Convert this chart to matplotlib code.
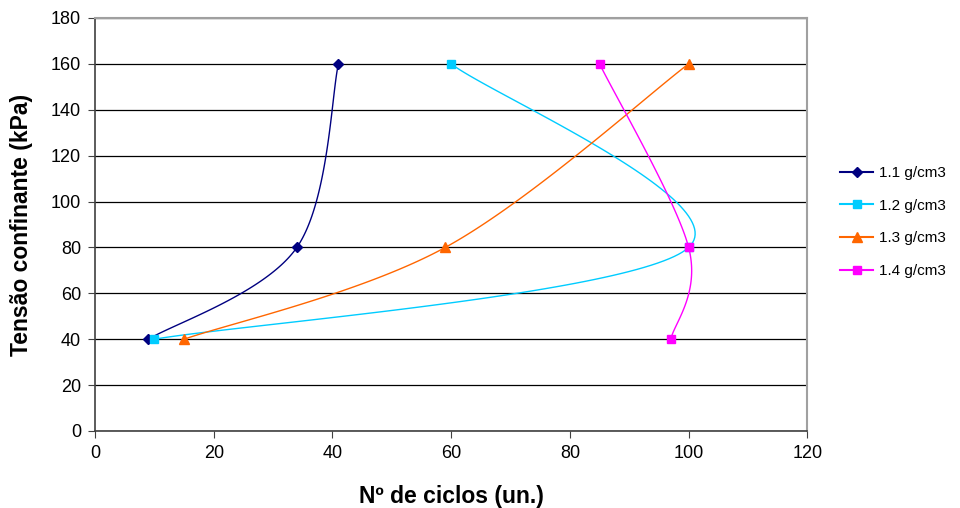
import numpy as np
import matplotlib
matplotlib.use('Agg')
import matplotlib.pyplot as plt

plt.rcParams['font.family'] = ['Liberation Sans', 'DejaVu Sans']

# data
tensao = [40, 80, 160]
ciclos_11 = [9, 34, 41]
ciclos_12 = [10, 100, 60]
ciclos_13 = [15, 59, 100]
ciclos_14 = [97, 100, 85]
labels = ['1.1 g/cm3', '1.2 g/cm3', '1.3 g/cm3', '1.4 g/cm3']
colors = ['#000080', '#00CCFF', '#FF6600', '#FF00FF']
markers = ['D', 's', '^', 's']
msizes = [5, 6, 7, 6]


def smooth(xs, ys, n=60):
    # Excel-like smoothed line (cubic Bezier, Catmull-Rom control points)
    p = np.column_stack([xs, ys]).astype(float)
    pts = [p[0]]
    for i in range(len(p) - 1):
        p0 = p[i - 1] if i > 0 else p[i]
        p3 = p[i + 2] if i + 2 < len(p) else p[i + 1]
        c1 = p[i] + (p[i + 1] - p0) / 6
        c2 = p[i + 1] - (p3 - p[i]) / 6
        t = np.linspace(0, 1, n)[1:, None]
        seg = ((1 - t) ** 3 * p[i] + 3 * (1 - t) ** 2 * t * c1
               + 3 * (1 - t) * t ** 2 * c2 + t ** 3 * p[i + 1])
        pts.extend(seg)
    pts = np.array(pts)
    return pts[:, 0], pts[:, 1]


fig = plt.figure(figsize=(9.6, 5.08), dpi=100)
ax = fig.add_axes([0.099, 0.1516, 0.742, 0.813])

series = [ciclos_11, ciclos_12, ciclos_13, ciclos_14]
for xs, lab, c, m, ms in zip(series, labels, colors, markers, msizes):
    sx, sy = smooth(xs, tensao)
    ax.plot(sx, sy, color=c, lw=1.0, zorder=3)
    ax.plot(xs, tensao, ls='none', marker=m, color=c, ms=ms, zorder=4)
    ax.plot([], [], color=c, lw=1.5, marker=m, ms=ms, label=lab)

ax.set_xlim(0, 120)
ax.set_ylim(0, 180)
ax.set_xticks(range(0, 121, 20))
ax.set_yticks(range(0, 181, 20))
ax.yaxis.grid(True, color='black', lw=0.9)
ax.set_axisbelow(True)
for s in ['top', 'right']:
    ax.spines[s].set_color('#A0A0A0')
    ax.spines[s].set_linewidth(1.5)
for s in ['left', 'bottom']:
    ax.spines[s].set_color('#404040')
    ax.spines[s].set_linewidth(1.2)
ax.tick_params(direction='out', length=5, color='#404040', labelsize=13, pad=5)
ax.set_xlabel('Nº de ciclos (un.)', fontsize=16.5, fontweight='bold', labelpad=17)
ax.set_ylabel('Tensão confinante (kPa)', fontsize=16.5, fontweight='bold', labelpad=13)

ax.legend(loc='center left', bbox_to_anchor=(1.046, 0.506), frameon=False,
          fontsize=11, handlelength=2.15, labelspacing=1.22, handletextpad=0.4,
          borderpad=0, borderaxespad=0)

fig.savefig('out.png', dpi=100)
